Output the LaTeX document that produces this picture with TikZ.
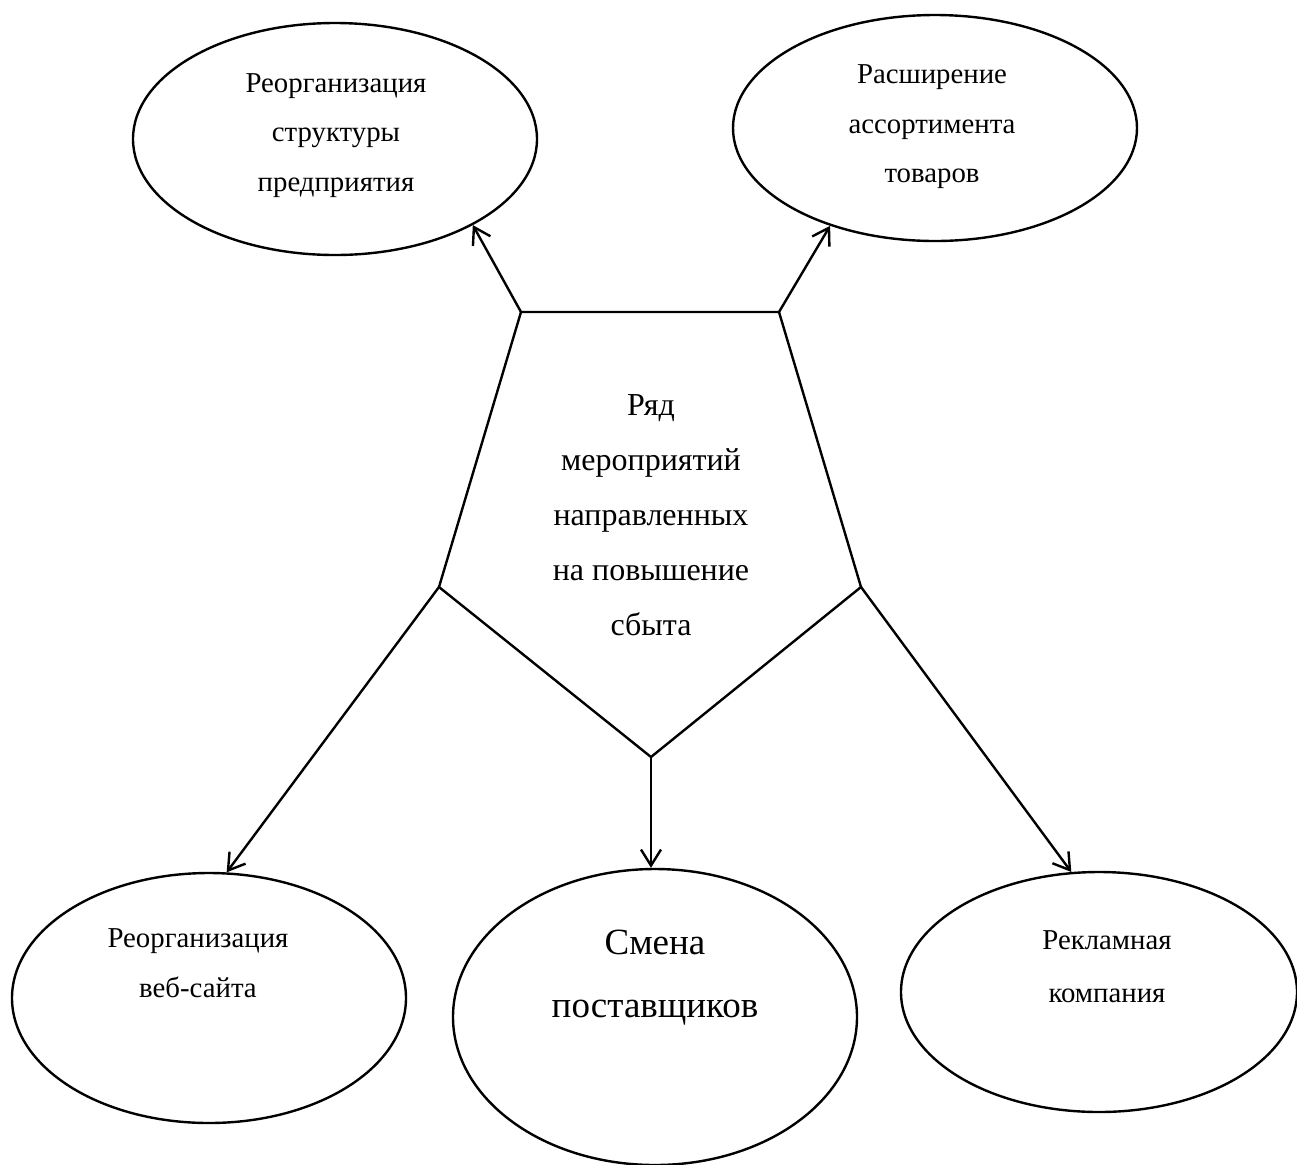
\documentclass[tikz,border=0pt]{standalone}
\usepackage{fontspec}
\setmainfont{Liberation Serif}
\usetikzlibrary{shapes.geometric,arrows.meta}
\begin{document}
\begin{tikzpicture}[x=0.5pt,y=-0.5pt,line width=1.2pt,
  oval/.style={draw, ellipse, inner sep=0pt},
  txt/.style={align=center, inner sep=0pt, font=\fontsize{14.4}{24.8}\selectfont},
  arr/.style={-{Straight Barb[length=8pt,width=10pt]}}]
\useasboundingbox (0,0) rectangle (1297,1164);
\node[oval, minimum width=202pt, minimum height=116pt] (org) at (335,139){};
\node[oval, minimum width=202pt, minimum height=113pt] (range) at (935,128){};
\node[oval, minimum width=197pt, minimum height=125pt] (web) at (209,998){};
\node[oval, minimum width=202pt, minimum height=148pt] (supp) at (655,1017){};
\node[oval, minimum width=198pt, minimum height=120pt] (ads) at (1099,992){};
\node[txt] (orgtxt) at (336,135.5){Реорганизация\\структуры\\предприятия};
\node[txt] (rangetxt) at (932,127){Расширение\\ассортимента\\товаров};
\node[txt] (webtxt) at (198,963){Реорганизация\\веб-сайта};
\node[txt, font=\fontsize{18.5}{31.5}\selectfont] (supptxt) at (655,977.5){Смена\\поставщиков};
\node[txt, font=\fontsize{14.4}{26.5}\selectfont] (adstxt) at (1107,966.5){Рекламная\\компания};
\coordinate (p1) at (521,312);
\coordinate (p2) at (779,312);
\coordinate (p3) at (861,587);
\coordinate (p4) at (651,757);
\coordinate (p5) at (439,587);
\draw[](p1) -- (p2) -- (p3) -- (p4) -- (p5) -- cycle;
\node[txt, font=\fontsize{16}{27.5}\selectfont] (goal) at (651,515){Ряд\\мероприятий\\направленных\\на повышение\\сбыта};
\draw[arr](p1) -- (org.-32);
\draw[arr](p2) -- (range.-137);
\draw[arr](p5) -- (web.82);
\draw[arr](p4) -- (p4 |- supp.north);
\draw[arr](p3) -- (ads.103);
\end{tikzpicture}
\end{document}
